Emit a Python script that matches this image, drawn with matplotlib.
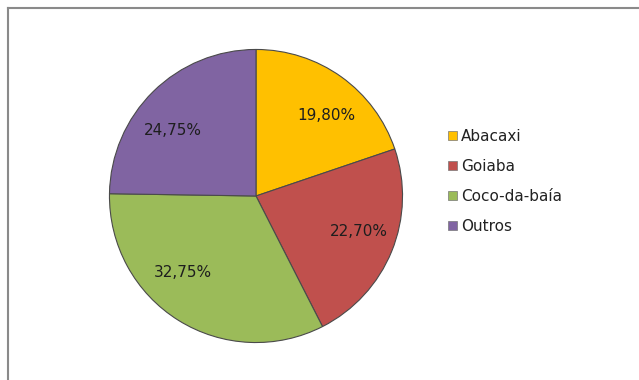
import matplotlib.pyplot as plt
from matplotlib.lines import Line2D
from matplotlib.patches import Patch

plt.rcParams['font.family'] = ['DejaVu Sans']

frutas = ['Abacaxi', 'Goiaba', 'Coco-da-baía', 'Outros']
percentuais = [19.80, 22.70, 32.75, 24.75]
rotulos = ['19,80%', '22,70%', '32,75%', '24,75%']
cores = ['#FFC000', '#C0504D', '#9BBB59', '#8064A2']
# posicao dos rotulos dentro da pizza (unidades do raio)
pos_rotulos = [(0.48, 0.55), (0.70, -0.24), (-0.50, -0.52), (-0.57, 0.45)]

W, H = 639, 380
fig = plt.figure(figsize=(W / 100, H / 100), dpi=100)
fig.patch.set_facecolor('white')

# borda cinza do grafico (so topo e esquerda aparecem)
fig.add_artist(Line2D([8 / W, 8 / W], [0, 1 - 8 / H], color='#8a8a8a', lw=1.5))
fig.add_artist(Line2D([8 / W, 1], [1 - 8 / H, 1 - 8 / H], color='#8a8a8a', lw=1.5))

cx, cy, r = 256, 196, 148
ax = fig.add_axes([(cx - r) / W, (H - cy - r) / H, 2 * r / W, 2 * r / H])
wedges, textos = ax.pie(percentuais, labels=rotulos, colors=cores,
                        startangle=90, counterclock=False,
                        labeldistance=0.72,
                        wedgeprops=dict(edgecolor='#4a4a4a', linewidth=0.8),
                        textprops=dict(fontsize=11, color='#1e1e1e',
                                       ha='center', va='center'))
for t, p in zip(textos, pos_rotulos):
    t.set_position(p)
ax.set_xlim(-1.01, 1.01)
ax.set_ylim(-1.01, 1.01)
ax.set_aspect('equal')

handles = [Patch(facecolor=c, edgecolor='#777777', linewidth=0.5) for c in cores]
fig.legend(handles, frutas, loc='upper left',
           bbox_to_anchor=(442 / W, 1 - 123 / H), frameon=False,
           fontsize=11, handlelength=0.55, handleheight=0.55,
           handletextpad=0.3, labelspacing=0.97, borderaxespad=0,
           labelcolor='#222222')

fig.savefig('out.png', dpi=100, facecolor='white')
